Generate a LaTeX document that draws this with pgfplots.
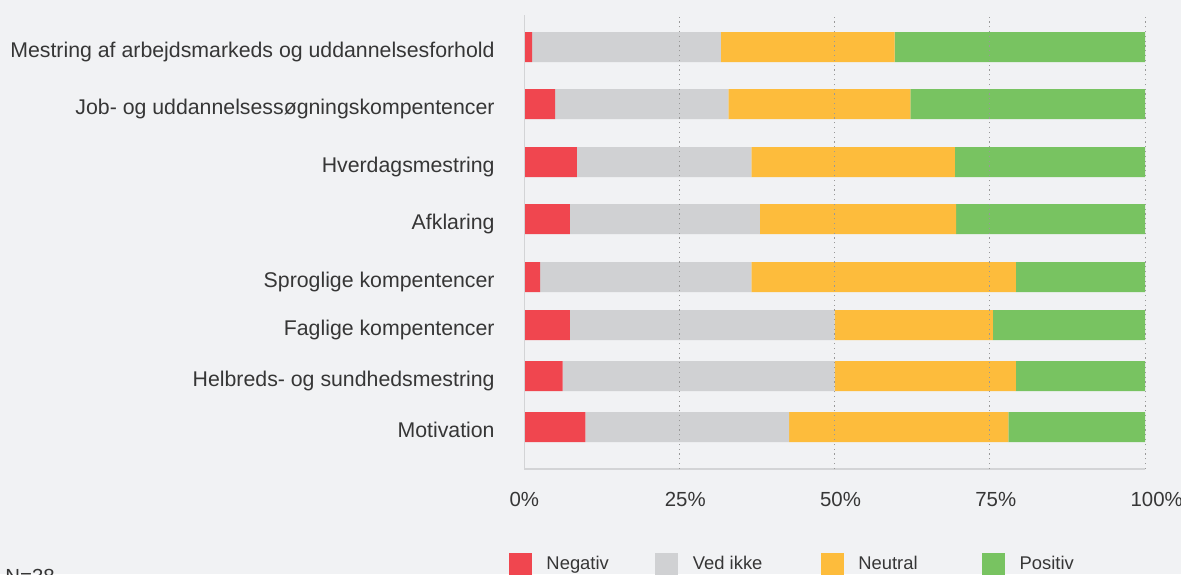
\documentclass[border=0pt]{standalone}
\usepackage{fontspec}
\setmainfont{Liberation Sans}
\usepackage{pgfplots}
\usepackage{pgfplotstable}
\pgfplotsset{compat=1.18}

\definecolor{bg}{HTML}{F1F2F4}
\definecolor{cneg}{HTML}{F0464F}
\definecolor{cved}{HTML}{D0D1D3}
\definecolor{cneu}{HTML}{FDBC3C}
\definecolor{cpos}{HTML}{78C361}
\definecolor{txt}{HTML}{363636}
\definecolor{axl}{HTML}{D3D4D6}

% y = bar centre (pixels from top, negated); shares in percent
\pgfplotstableread{
y     neg  ved   neu   pos
-47   1.3  30.4  28.0  40.3
-104  5.0  27.9  29.3  37.8
-162  8.5  28.1  32.8  30.6
-219  7.4  30.6  31.6  30.4
-277  2.6  34.0  42.6  20.8
-325  7.4  42.6  25.5  24.5
-376  6.2  43.8  29.2  20.8
-427  9.9  32.8  35.3  22.0
}\data

\pgfplotsset{
  sq legend/.style={legend image code/.code={
    \fill[##1, draw=none] (0pt,-5.75pt) rectangle (11.5pt,5.75pt);
    \path (18.7pt,0pt);}},
}

\begin{document}
\begin{tikzpicture}
\useasboundingbox (0,0) rectangle (590.5pt,-287pt);
\clip (0,0) rectangle (590.5pt,-287pt);
\fill[bg] (0,0) rectangle (590.5pt,-287pt);
\begin{axis}[
    at={(262pt,-234.5pt)}, anchor=south west,
    scale only axis, width=310.5pt, height=227pt,
    xbar stacked, bar width=15pt,
    xmin=0, xmax=100, ymin=-469, ymax=-15,
    axis line style={draw=none},
    major tick length=0pt,
    axis on top,
    xtick={25,50,75,100},
    xticklabels={25\%,50\%,75\%,100\%},
    extra x ticks={0},
    extra x tick labels={0\%},
    extra x tick style={grid=none},
    xmajorgrids,
    grid style={black!40, line width=0.5pt, dash pattern=on 0.6pt off 1.8pt},
    xticklabel style={anchor=base west, inner sep=0pt, xshift=-7.4pt, yshift=-18.9pt,
      font=\fontsize{10.2}{12}\selectfont},
    ytick={-47,-104,-162,-219,-277,-325,-376,-427},
    yticklabels={Mestring af arbejdsmarkeds og uddannelsesforhold,
      Job- og uddannelsessøgningskompentencer,
      Hverdagsmestring, Afklaring, Sproglige kompentencer,
      Faglige kompentencer, Helbreds- og sundhedsmestring, Motivation},
    yticklabel style={anchor=base east, inner sep=0pt, xshift=-14.5pt, yshift=-5.25pt,
      font=\fontsize{10.65}{12}\selectfont},
    tick label style={text=txt},
    legend columns=4,
    legend style={at={(-0.024,-0.185)}, anchor=north west, draw=none, fill=none,
      inner sep=0pt, outer sep=0pt, column sep=0pt,
      font=\fontsize{9.2}{11}\selectfont,
      nodes={inner sep=0pt, text=txt}},
]
\draw[axl, line width=1pt] (axis cs:0,-15) -- (axis cs:0,-469) -- (axis cs:100,-469);
\addplot[fill=cneg, draw=none, sq legend] table[x=neg, y=y] {\data};
\addplot[fill=cved, draw=none, sq legend] table[x=ved, y=y] {\data};
\addplot[fill=cneu, draw=none, sq legend] table[x=neu, y=y] {\data};
\addplot[fill=cpos, draw=none, sq legend] table[x=pos, y=y] {\data};
\legend{\makebox[54.5pt][l]{Negativ}, \makebox[64pt][l]{Ved ikke},
  \makebox[62pt][l]{Neutral}, Positiv}
\end{axis}
\node[anchor=base west, inner sep=0pt, text=txt, font=\fontsize{10.2}{12}\selectfont]
  at (2.5pt,-291.5pt) {N=38};
\end{tikzpicture}
\end{document}
